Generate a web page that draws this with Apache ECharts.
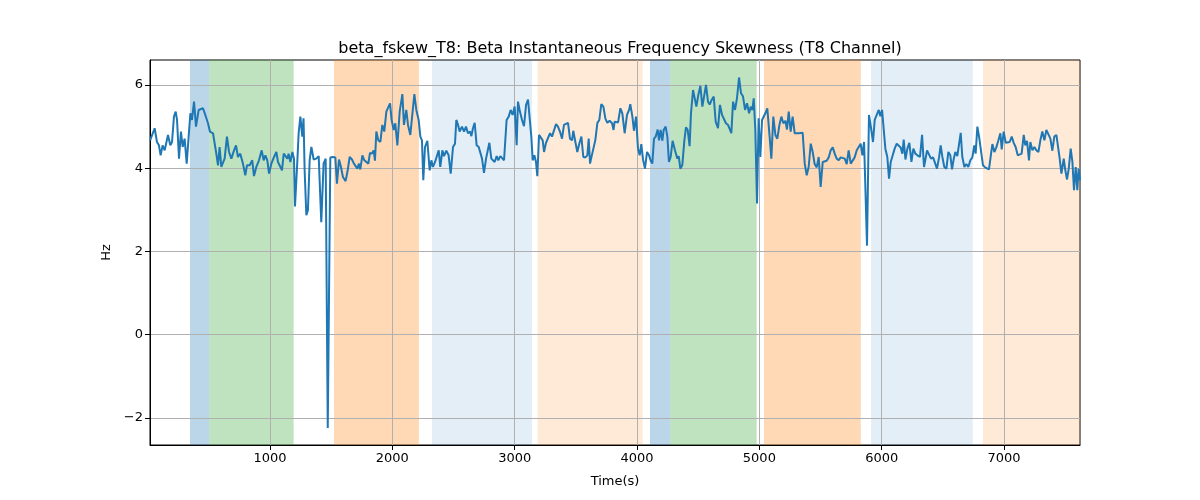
<!DOCTYPE html>
<html>
<head>
<meta charset="utf-8">
<script src="https://cdn.jsdelivr.net/npm/echarts@6/dist/echarts.min.js"></script>
<style>html,body{margin:0;padding:0;background:#fff;}#chart{width:1200px;height:500px;}</style>
</head>
<body>
<div id="chart"></div>
<script>
const titleText = 'beta_fskew_T8: Beta Instantaneous Frequency Skewness (T8 Channel)';
const xTicks = [1000, 2000, 3000, 4000, 5000, 6000, 7000];
const yTicks = [-2, 0, 2, 4, 6];
const xRange = [19, 7621];
const yRange = [-2.65, 6.6];

const times = [
20,30,57,76,92,106,122,139,166,185,199,215,229,240,256,272,286,302,319,335,349,362,379,395,417,433,452,471,493,509,534,561,575,588,602,629,648,665,684,706,722,738,757,779,798,812,834,855,869,888,910,932,948,962,978,992,1011,1033,1052,1065,1079,1098,1112,1128,1142,1152,1166,1183,1196,1204,1221,1234,1248,1264,1274,
1283,1297,1310,1324,1338,1357,1378,1398,1419,1438,1455,1472,1493,1515,1534,1547,1564,1580,1596,1618,1635,1651,1670,1686,1700,1714,1727,1738,1755,1771,1787,1804,1817,1834,1847,1858,1869,1885,1902,1918,1934,1951,1964,1981,1994,2011,2024,2041,2060,2082,2095,2114,2128,2147,2163,2180,2196,2215,2229,2242,2253,2267,2286,2305,2319,2332,2349,2362,2379,2392,2409,2422,2441,2460,2477,2496,2512,2523,
2537,2550,2569,2586,2602,2618,2635,2646,2659,2673,2689,2706,2722,2733,2749,2766,2782,2793,2809,2825,2836,2853,2866,2883,2896,2913,2934,2951,2967,2983,3000,3016,3027,3043,3060,3076,3093,3109,3125,3136,3147,3161,3174,3185,3199,3212,3229,3240,3256,3272,3289,3305,3321,3338,3354,3370,3387,3403,3419,3436,3452,3469,3479,3496,3512,3528,3545,3561,3578,3594,3605,3616,3627,3643,3659,3676,3692,3708,3725,3741,3757,3776,3796,3808,
3817,3831,3845,3864,3880,3899,3918,3935,3945,3962,3975,3992,4008,4022,4035,4049,4065,4082,4098,4112,4125,4139,4153,4169,4180,4193,4207,4218,4234,4248,4261,4275,4291,4310,4330,4341,4354,4370,4387,4400,4414,4430,4441,4458,4471,4485,4501,4518,4534,4548,4564,4580,4594,4610,4627,4643,4662,4678,4695,4711,4727,4744,4760,4771,4785,4801,4817,4834,4850,4866,4883,4899,4916,4929,4943,4954,4967,4981,4994,5008,5022,5035,5049,5065,
5084,5098,5114,5131,5147,5164,5180,5196,5213,5226,5240,5256,5272,5289,5305,5322,5338,5354,5371,5387,5403,5420,5436,5452,5469,5485,5501,5518,5534,5550,5567,5583,5600,5616,5632,5649,5665,5681,5698,5714,5730,5747,5763,5779,5796,5812,5828,5842,5856,5867,5880,5896,5913,5929,5943,5959,5976,5989,6003,6016,6030,6046,6060,6074,6090,6106,6123,6139,6155,6169,6180,6194,6210,6226,6243,6259,6275,6292,6313,6330,6346,
6371,6387,6403,6420,6436,6452,6469,6482,6496,6512,6529,6545,6561,6575,6589,6602,6618,6632,6646,6659,6676,6692,6708,6725,6741,6757,6768,6782,6796,6812,6828,6845,6861,6877,6894,6905,6921,6937,6954,6970,6981,6997,7014,7030,7046,7063,7079,7095,7112,7128,7144,7161,7174,7188,7204,7215,7232,7248,7264,7281,7297,7313,7330,7346,7362,7379,7395,7411,7428,7441,7455,7469,7488,7501,7515,7529,7545,7559,7572,7586,7599,7610,7621
];

const values = [
4.67,4.71,4.96,4.63,4.55,4.31,4.55,4.43,4.80,4.55,4.63,5.24,5.36,5.16,4.23,4.88,4.51,4.71,4.11,4.76,5.32,5.16,5.60,5.00,5.40,5.36,5.44,5.28,5.08,4.88,4.84,4.35,4.07,4.51,4.03,4.23,4.76,4.39,4.23,4.43,4.55,4.27,4.35,4.11,3.83,4.07,4.07,4.19,3.81,4.03,4.19,4.43,4.19,4.31,4.19,3.87,4.11,4.27,4.39,4.15,4.19,3.95,4.35,4.35,4.23,4.35,4.15,4.39,4.23,3.08,4.03,4.84,5.24,4.76,5.20,
3.95,2.87,2.99,4.19,4.51,4.21,4.23,4.29,2.70,4.11,4.23,-2.24,4.26,4.27,4.26,3.63,4.21,4.03,3.79,3.69,3.95,4.27,4.21,4.11,4.15,3.99,4.11,3.97,4.31,4.19,4.21,4.11,4.37,4.35,4.43,4.18,4.88,4.67,4.63,5.04,4.88,5.36,5.40,5.56,5.16,4.92,5.08,4.55,5.36,5.78,5.04,5.40,5.04,4.80,5.28,5.78,5.40,5.16,4.76,4.67,3.71,4.51,4.66,3.95,4.19,4.03,4.15,4.11,4.43,4.03,4.43,4.29,4.42,4.31,3.87,4.51,4.59,5.16,
5.04,4.88,5.00,4.88,5.00,4.84,4.88,4.77,4.96,5.09,4.55,4.51,4.55,4.23,3.89,4.23,4.26,4.61,4.23,4.27,4.15,4.29,4.19,4.29,4.26,4.19,5.16,5.24,5.40,5.28,5.48,4.55,5.60,5.36,5.16,5.01,5.52,5.65,5.64,4.76,4.19,4.31,4.15,3.81,4.80,4.84,4.67,4.39,4.61,4.59,4.84,4.76,4.80,5.06,5.00,4.88,4.71,5.04,5.05,5.09,4.71,4.67,4.90,4.63,4.39,4.59,4.76,4.27,4.26,4.31,4.71,4.11,4.26,4.23,4.67,5.09,5.16,5.54,5.48,5.20,5.09,5.14,5.08,4.92,
5.12,5.16,5.10,5.44,5.32,4.84,5.28,5.40,5.54,5.24,4.90,5.24,4.47,4.31,4.58,4.21,3.99,4.39,4.31,4.18,4.11,4.71,4.76,4.93,4.67,4.92,4.66,4.92,5.00,4.76,4.15,4.27,4.66,4.43,4.23,4.29,3.99,4.07,4.67,4.98,4.92,4.53,5.32,5.88,5.86,5.48,5.76,5.98,5.48,5.72,6.00,5.60,5.53,5.64,5.72,5.12,4.96,5.52,5.28,5.24,5.08,5.04,5.06,4.84,5.60,5.40,5.68,6.18,5.80,5.73,5.40,5.56,5.32,5.48,5.40,5.68,4.92,3.15,5.20,4.27,5.16,5.12,5.32,5.44,
4.76,4.23,5.24,4.80,4.71,5.04,5.24,5.08,5.14,4.93,5.36,4.88,5.24,4.84,4.88,4.84,4.88,4.85,4.11,3.83,4.03,4.59,4.39,4.10,4.02,4.27,3.55,4.15,4.19,4.18,4.26,4.43,4.50,4.35,4.23,4.19,4.26,4.29,4.23,4.10,4.43,4.11,4.10,4.26,4.43,4.47,4.59,4.31,4.63,4.67,2.14,5.28,4.96,4.63,5.16,5.20,5.40,5.25,5.40,5.41,4.47,4.27,3.75,4.15,4.19,4.47,4.59,4.55,4.50,4.35,4.69,4.21,4.47,4.61,4.15,4.47,4.35,4.31,4.27,4.80,4.03,
4.43,4.43,4.23,4.26,4.23,3.99,4.26,4.55,4.27,4.03,3.99,4.39,4.31,3.97,4.23,4.39,4.29,4.27,4.85,4.27,4.03,4.10,4.03,4.19,4.26,4.55,4.35,5.00,4.76,4.74,4.07,4.02,4.03,3.97,4.35,4.58,4.39,4.50,4.67,4.84,4.45,4.88,4.61,4.61,4.63,4.76,4.61,4.51,4.31,4.29,4.35,4.80,4.55,4.66,4.19,4.63,4.43,4.51,4.43,4.39,4.67,4.88,4.67,4.92,4.96,4.71,4.42,4.76,4.80,4.80,4.23,3.87,4.23,3.95,3.73,3.99,4.47,4.15,3.47,4.03,3.47,3.99,3.71
];

// shaded intervals (start, end, kind)
const bandStarts = [346, 504, 1523, 2324, 3188, 4106, 4272, 5038, 5913, 6828];
const bandEnds   = [504, 1193, 2217, 3142, 4046, 4272, 4978, 5829, 6744, 7621];
const bandKinds  = ['blue', 'green', 'orange', 'lightblue', 'lightorange', 'blue', 'green', 'orange', 'lightblue', 'lightorange'];

const kindColor = {
  blue: 'rgba(31,119,180,0.3)',
  green: 'rgba(44,160,44,0.3)',
  orange: 'rgba(255,127,14,0.3)',
  lightblue: 'rgba(31,119,180,0.12)',
  lightorange: 'rgba(255,127,14,0.16)'
};

const lineData = times.map((t, i) => [t, values[i]]);
const bandData = bandStarts.map((s, i) => [s, bandEnds[i], i]);

const fmt = v => String(v).replace('-', '\u2212');

const font = 'DejaVu Sans';
const chart = echarts.init(document.getElementById('chart'), null, {renderer: 'canvas'});
chart.setOption({
  animation: false,
  backgroundColor: '#fff',
  title: {
    text: titleText, left: 615, top: 36, textAlign: 'center',
    textStyle: {fontFamily: font, fontSize: 16, fontWeight: 'normal', color: '#000'}
  },
  grid: {left: 150, right: 120, top: 60, bottom: 55, show: true, borderColor: '#000', borderWidth: 1, backgroundColor: 'transparent'},
  xAxis: {
    type: 'value', min: xRange[0], max: xRange[1], z: 2,
    name: 'Time(s)', nameLocation: 'middle', nameGap: 30,
    nameTextStyle: {fontFamily: font, fontSize: 13, color: '#000'},
    axisLine: {show: true, onZero: false, lineStyle: {color: '#000', width: 1}},
    axisTick: {show: true, length: 5, lineStyle: {color: '#000'}, customValues: xTicks},
    axisLabel: {fontFamily: font, fontSize: 13, color: '#000', margin: 7, customValues: xTicks, formatter: fmt},
    splitLine: {show: true, lineStyle: {color: '#b0b0b0', width: 1}}
  },
  yAxis: {
    type: 'value', min: yRange[0], max: yRange[1], z: 2,
    name: 'Hz', nameLocation: 'middle', nameGap: 36,
    nameTextStyle: {fontFamily: font, fontSize: 13, color: '#000'},
    axisLine: {show: true, onZero: false, lineStyle: {color: '#000', width: 1}},
    axisTick: {show: true, length: 5, lineStyle: {color: '#000'}, customValues: yTicks},
    axisLabel: {fontFamily: font, fontSize: 13, color: '#000', margin: 7, customValues: yTicks, formatter: fmt},
    splitLine: {show: true, lineStyle: {color: '#b0b0b0', width: 1}}
  },
  series: [
    {
      type: 'custom', z: 1, silent: true,
      data: bandData,
      renderItem: function (params, api) {
        const cs = params.coordSys;
        const x0 = api.coord([api.value(0), 0])[0];
        const x1 = api.coord([api.value(1), 0])[0];
        const kind = bandKinds[api.value(2)];
        const rect = echarts.graphic.clipRectByRect(
          {x: x0, y: cs.y, width: x1 - x0, height: cs.height},
          {x: cs.x, y: cs.y, width: cs.width, height: cs.height}
        );
        if (!rect) return null;
        return {type: 'rect', shape: rect, style: {fill: kindColor[kind]}};
      }
    },
    {
      type: 'line', z: 3, data: lineData, showSymbol: false, symbol: 'none',
      lineStyle: {color: '#1f77b4', width: 2}, clip: true
    }
  ]
});
</script>
</body>
</html>
